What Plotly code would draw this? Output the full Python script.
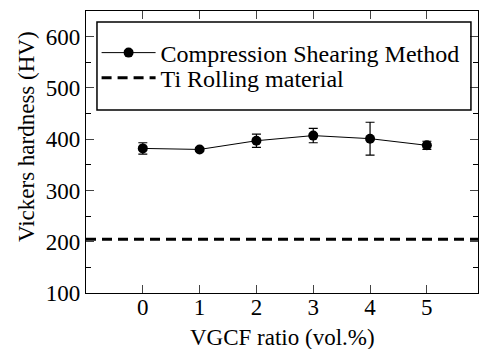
import plotly.graph_objects as go

vgcf_ratio = [0, 1, 2, 3, 4, 5]
hardness = [382, 380, 397, 407, 401, 388]
hardness_err = [11, 3, 13, 14, 32, 8]
ti_rolling = 205
x_range = [-1, 5.9]
y_range = [100, 650]
y_ticks = [100, 200, 300, 400, 500, 600]

FONT = "Liberation Serif"

fig = go.Figure()
fig.add_trace(go.Scatter(
    x=vgcf_ratio, y=hardness, mode="lines+markers",
    name="Compression Shearing Method", legend="legend",
    line=dict(color="black", width=1),
    marker=dict(color="black", size=10),
    error_y=dict(type="data", array=hardness_err, color="black", thickness=1.2, width=4.5),
))
fig.add_trace(go.Scatter(
    x=x_range, y=[ti_rolling, ti_rolling], mode="lines",
    name="Ti Rolling material", legend="legend2",
    line=dict(color="black", width=3, dash="10px,6px"),
))

leg_common = dict(xanchor="left", yanchor="middle", bgcolor="rgba(0,0,0,0)", borderwidth=0,
                  font=dict(family=FONT, size=24, color="black"), itemwidth=54)

fig.update_layout(
    width=481, height=349,
    margin=dict(l=86, r=3, t=11, b=56, autoexpand=False),
    paper_bgcolor="white", plot_bgcolor="white",
    font=dict(family=FONT, size=23, color="black"),
    showlegend=True,
    legend=dict(x=0.027, y=0.851, **leg_common),
    legend2=dict(x=0.027, y=0.762, **leg_common),
    shapes=[dict(type="rect", xref="paper", yref="paper",
                 x0=0.028, x1=0.982, y0=0.649, y1=0.961,
                 line=dict(color="black", width=1.5))],
    annotations=[
        dict(text="VGCF ratio (vol.%)", xref="paper", yref="paper", x=0.5, y=0,
             xanchor="center", yanchor="middle", yshift=-44, showarrow=False,
             font=dict(family=FONT, size=23, color="black")),
        dict(text="Vickers hardness (HV)", xref="paper", yref="paper", x=0, y=0.553,
             xanchor="center", yanchor="middle", xshift=-60, textangle=-90, showarrow=False,
             font=dict(family=FONT, size=23, color="black")),
    ],
)
fig.update_xaxes(
    range=x_range, tickvals=vgcf_ratio, ticks="inside", ticklen=8,
    showline=True, linecolor="black", linewidth=1.2, mirror="ticks",
    showgrid=False, zeroline=False, tickfont=dict(family=FONT, size=23),
    automargin=False, ticklabelstandoff=-7,
)
fig.update_yaxes(
    range=y_range, tickvals=y_ticks, ticks="inside", ticklen=8,
    minor=dict(dtick=50, ticks="inside", ticklen=5, tickcolor="black"),
    showline=True, linecolor="black", linewidth=1.2, mirror="ticks",
    showgrid=False, zeroline=False, tickfont=dict(family=FONT, size=23),
    automargin=False,
)
fig.write_html("out.html", config={"displayModeBar": False},
               post_script="document.body.style.margin='0px';")
